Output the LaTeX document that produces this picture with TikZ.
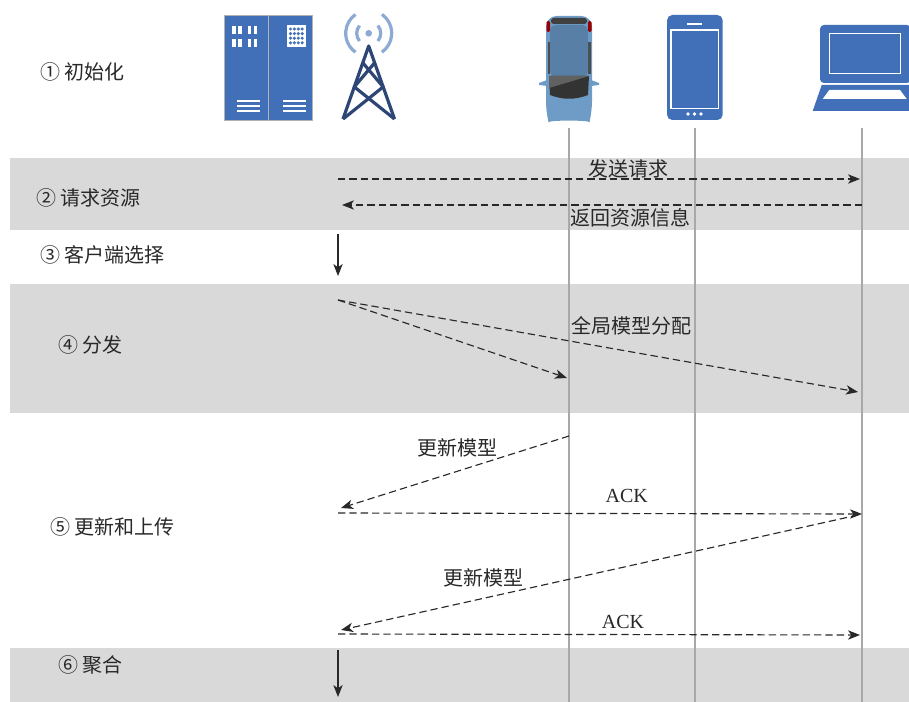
\documentclass[tikz,border=0pt]{standalone}
\usepackage{fontspec}
\setmainfont{Liberation Serif}
\newfontfamily\cjk{Noto Sans CJK SC}
\usetikzlibrary{arrows.meta,positioning,calc}

\definecolor{band}{RGB}{217,217,217}
\definecolor{devblue}{RGB}{66,112,184}
\definecolor{navy}{RGB}{45,70,118}
\definecolor{wave}{RGB}{140,170,212}
\definecolor{carbody}{RGB}{110,156,198}
\definecolor{carroof}{RGB}{88,128,166}
\definecolor{lifegray}{RGB}{168,168,168}
\definecolor{ink}{RGB}{40,40,40}

\tikzset{
  msg/.style={->,dashed,dash pattern=on 5.5pt off 3pt,line width=0.85pt,draw=ink},
  flow/.style={->,line width=0.85pt,draw=ink},
  life/.style={draw=lifegray,line width=0.9pt},
  stage/.style={anchor=west,inner sep=0pt,text=ink},
  ack/.style={text=ink,font=\rmfamily\fontsize{15}{18}\selectfont},
}

\begin{document}
\begin{tikzpicture}[x=0.75pt,y=-0.75pt,>={Stealth[length=9pt,width=7pt,inset=2.5pt]},font=\cjk\fontsize{15}{18}\selectfont]
  \useasboundingbox (0,0) rectangle (909,702);

  % grey bands behind steps 2, 4 and 6
  \fill[band] (10,158) rectangle (909,230);
  \fill[band] (10,284) rectangle (909,413);
  \fill[band] (10,648) rectangle (909,702);

  \node[stage] (st1) at (40,72)  {① 初始化};
  \node[stage] (st2) at (36,198) {② 请求资源};
  \node[stage] (st3) at (40,255) {③ 客户端选择};
  \node[stage] (st4) at (58,345) {④ 分发};
  \node[stage] (st5) at (50,527) {⑤ 更新和上传};
  \node[stage] (st6) at (58,665) {⑥ 聚合};

  % server rack
  \filldraw[fill=devblue,draw=gray!60] (224,15) rectangle (268,120);
  \filldraw[fill=devblue,draw=gray!60] (268,15) rectangle (312,120);
  \foreach \x in {234,240,249.5,255.5}
    \foreach \y in {26.5,39.5}
      \draw[white,line width=2.4pt] (\x,\y) -- (\x,\y+8);
  \foreach \y in {101,106,111}{
    \draw[white,line width=1.4pt] (237,\y) -- (260,\y);
    \draw[white,line width=1.4pt] (283,\y) -- (306,\y);
  }
  \fill[white] (286.5,25) rectangle (306,47);
  \foreach \i in {0,...,3}
    \foreach \j in {0,...,3}
      \fill[devblue] (290.5+\i*3.9,29+\j*4.6) circle (1.3pt);

  % antenna
  \fill[wave] (368.7,33.3) circle (2.5pt);
  \draw[wave,line width=2.4pt] (368.7,33.3) ++(140:12) arc[start angle=140,end angle=220,radius=12];
  \draw[wave,line width=2.4pt] (368.7,33.3) ++(-40:12) arc[start angle=-40,end angle=40,radius=12];
  \draw[wave,line width=2.4pt] (368.7,33.3) ++(125:23) arc[start angle=125,end angle=235,radius=23];
  \draw[wave,line width=2.4pt] (368.7,33.3) ++(-55:23) arc[start angle=-55,end angle=55,radius=23];
  \coordinate (apex) at (368.7,46);
  \coordinate (legl) at (343,119);
  \coordinate (legr) at (394.5,119);
  \begin{scope}[navy,line width=2.4pt,line join=round]
    \draw (legl) -- (apex) -- (legr);
    \draw ($(apex)!0.23!(legl)$) -- ($(apex)!0.56!(legr)$) -- (legl);
    \draw ($(apex)!0.23!(legr)$) -- ($(apex)!0.56!(legl)$) -- (legr);
  \end{scope}

  % car, seen from above
  \fill[carbody] (547,80) -- (539,83) -- (539,85) -- (547,86) -- cycle;
  \fill[carbody] (591,80) -- (599,83) -- (599,85) -- (591,86) -- cycle;
  \fill[carbody,rounded corners=8pt] (546,16) -- (592,16) -- (592,112) .. controls (590,120) and (548,120) .. (546,112) -- cycle;
  \fill[red!60!black,rounded corners=1pt] (546.5,21) rectangle (550,32);
  \fill[red!60!black,rounded corners=1pt] (588,21) rectangle (591.5,32);
  \fill[black!75,rounded corners=2pt] (551,18) rectangle (587,24);
  \fill[black!70] (547.5,42) rectangle (550,74);
  \fill[black!70] (588,42) rectangle (590.5,74);
  \fill[carroof,rounded corners=4pt] (550,25) -- (588,25) -- (588,77) -- (550,77) -- cycle;
  \fill[black!80] (549,76) -- (589,76) -- (588,95) .. controls (575,100) and (563,100) .. (550,95) -- cycle;
  \fill[black!62] (549,76) -- (589,76) -- (549,88) -- cycle;
  \coordinate (car) at (569,128);

  % phone
  \fill[devblue,rounded corners=4pt] (667,15) rectangle (722.7,120);
  \draw[white,line width=0.8pt] (671,30) rectangle (718.7,108.3);
  \draw[white,line width=1.2pt] (687.3,24) -- (701.7,24);
  \foreach \x in {688,694.5,701}
    \fill[white] (\x,114) circle (1.4pt);
  \coordinate (phone) at (695,128);

  % laptop
  \fill[devblue,rounded corners=3pt] (820,25) rectangle (911,83);
  \draw[white,line width=0.8pt] (829.3,33.3) rectangle (900.7,73.3);
  \fill[devblue] (821.7,85) -- (910,85) -- (910,111) -- (812.7,111) -- cycle;
  \fill[white] (829.3,90) -- (900,90) -- (906.7,99) -- (822.7,99) -- cycle;
  \coordinate (laptop) at (862,128);

  % lifelines
  \coordinate (bottom) at (0,702);
  \foreach \d in {car,phone,laptop}
    \draw[life] (\d) -- (\d |- bottom);

  % step 2
  \coordinate (q1) at (338,179);
  \coordinate (q2) at (860,179);
  \coordinate (r1) at (862,205);
  \coordinate (r2) at (342,205);
  \draw[msg] (q1) -- node[pos=0.556,above=-3pt,text=ink] (req) {发送请求} (q2);
  \draw[msg] (r1) -- node[pos=0.446,below=-1pt,text=ink] (res) {返回资源信息} (r2);

  % step 3
  \coordinate (c1) at (338,234);
  \coordinate (c2) at (338,276);
  \draw[flow] (c1) -- (c2);

  % step 4
  \coordinate (d0) at (338,300);
  \coordinate (d1) at (567,378);
  \coordinate (d2) at (858,392);
  \draw[msg] (d0) -- (d1);
  \draw[msg] (d0) -- node[pos=0.565,above=8.5pt,text=ink] (dist) {全局模型分配} (d2);

  % step 5
  \coordinate (u1) at (569,436);
  \coordinate (u2) at (341,508);
  \coordinate (a1) at (338,513);
  \coordinate (a2) at (862,514);
  \coordinate (u3) at (858,515);
  \coordinate (u4) at (341,630);
  \coordinate (a3) at (338,634);
  \coordinate (a4) at (860,635);
  \draw[msg] (u1) -- node[pos=0.49,above=7pt,text=ink] (upd1) {更新模型} (u2);
  \draw[msg] (a1) -- node[pos=0.551,above=4.5pt,ack] (ack1) {ACK} (a2);
  \draw[msg] (u3) -- node[pos=0.725,above=5pt,text=ink] (upd2) {更新模型} (u4);
  \draw[msg] (a3) -- node[pos=0.546,above=0.5pt,ack] (ack2) {ACK} (a4);

  % step 6
  \coordinate (g1) at (338,650);
  \coordinate (g2) at (338,697);
  \draw[flow] (g1) -- (g2);

\end{tikzpicture}
\end{document}
